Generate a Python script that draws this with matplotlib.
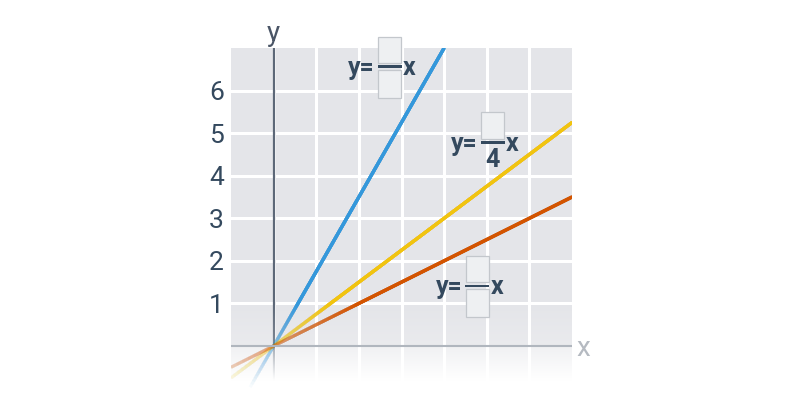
import numpy as np
import matplotlib
matplotlib.use("Agg")
import matplotlib.pyplot as plt
from matplotlib.patches import Rectangle
from matplotlib.transforms import Affine2D, ScaledTranslation

# ---- data ----
slopes = [1.75, 0.75, 0.5]
line_x_end = [4, 7, 7]
line_colors = ["#3498db", "#f1c40f", "#d35400"]
ytick_values = [1, 2, 3, 4, 5, 6]
ytick_labels = ["1", "2", "3", "4", "5", "6"]
xgrid_values = [0, 1, 2, 3, 4, 5, 6]
numerators = ["", "", ""]
denominators = ["", "4", ""]
# label anchors (fraction bar centre) in data coordinates
label_anchor_x = [2.72, 5.14, 4.78]
label_anchor_y = [6.56, 4.785, 1.41]

plt.rcParams['font.family'] = ['Roboto', 'DejaVu Sans']

TEXT = "#34495e"
fig = plt.figure(figsize=(8, 4), dpi=100)
XMIN, XMAX, YMIN, YMAX = -1, 7, -1.1, 7
ax = fig.add_axes([231 / 800, 1 - (346 + 1.1 * 42.57) / 400, 341 / 800, (8.1 * 42.57) / 400])
ax.set_xlim(XMIN, XMAX)
ax.set_ylim(YMIN, YMAX)
ax.set_facecolor("#e4e5e9")
for s in ax.spines.values():
    s.set_visible(False)

ax.set_xticks(xgrid_values)
ax.set_xticklabels([])
ax.set_yticks(ytick_values)
ax.set_yticklabels(ytick_labels)
ax.tick_params(axis='both', length=0)
ax.tick_params(axis='y', pad=5, labelsize=19, labelcolor=TEXT)
ax.set_axisbelow(True)
ax.grid(True, color="white", lw=2.2)

# y axis line
ax.plot([0, 0], [YMIN, YMAX], color="#5d6878", lw=1.6, zorder=1.0, solid_capstyle='butt')

# white fade overlay
ys = np.linspace(YMAX, YMIN, 900)
alpha = np.where(ys >= 1, 0.0,
                 np.where(ys >= 0, 0.22 * (1 - ys),
                          np.clip(0.45 + 0.55 * (-ys / 0.8), 0, 1)))
img = np.ones((len(ys), 2, 4))
img[:, :, 3] = alpha[:, None]
ax.imshow(img, extent=(XMIN, XMAX, YMIN, YMAX), aspect='auto', zorder=1.2,
          interpolation='bilinear')

# x axis line
ax.plot([XMIN, XMAX], [0, 0], color="#b0b6be", lw=1.5, zorder=3, solid_capstyle='butt')

# lines: stacked translucent copies give a smooth fade from y=1 down to y=-1
N = 30
for k, c, xe in zip(slopes, line_colors, line_x_end):
    for j in range(1, N + 1):
        y_start = -1 + 2 * (j - 0.5) / N
        x_start = max(y_start / k, -1.0)
        a = 1.0 / (N - j + 1)
        ax.plot([x_start, xe], [k * x_start, k * xe], color=c, lw=2.3, alpha=a,
                solid_capstyle='round' if j == N else 'butt', zorder=2.5)

def off(x, y, dx=0, dy=0):
    return Affine2D().translate(dx, dy) + ScaledTranslation(x, y, ax.transData)

# axis labels
ax.text(0, 0, "y", transform=off(0, 7, 0, 7), ha='center', va='baseline', fontsize=20,
        color="#4a5566", clip_on=False)
ax.text(0, 0, "x", transform=off(7, 0, 4, -10), ha='left', va='baseline', fontsize=20,
        color="#b5bac1", clip_on=False)

# fraction labels
BOX_FC = "#eef0f2"
BOX_EC = "#c3c7cc"
for ax_x, ax_y, num, den in zip(label_anchor_x, label_anchor_y, numerators, denominators):
    T = off(ax_x, ax_y)
    ax.text(-15, -8.5, "y=", transform=T, ha='right', va='baseline', fontsize=18,
            color=TEXT, fontweight='bold', clip_on=False, zorder=5)
    ax.text(13.5, -8.5, "x", transform=T, ha='left', va='baseline', fontsize=18,
            color=TEXT, fontweight='bold', clip_on=False, zorder=5)
    ax.add_patch(Rectangle((-12, -1.35), 24, 2.7, transform=T, facecolor=TEXT,
                           edgecolor='none', clip_on=False, zorder=5))
    if num == "":
        ax.add_patch(Rectangle((-11.5, 3.5), 23, 26.5, transform=T, facecolor=BOX_FC,
                               edgecolor=BOX_EC, lw=0.9, clip_on=False, zorder=5))
    else:
        ax.text(0, 8, num, transform=T, ha='center', va='baseline', fontsize=18,
                color=TEXT, fontweight='bold', clip_on=False, zorder=5)
    if den == "":
        ax.add_patch(Rectangle((-11.5, -31), 23, 27.5, transform=T, facecolor=BOX_FC,
                               edgecolor=BOX_EC, lw=0.9, clip_on=False, zorder=5))
    else:
        ax.text(0, -24.5, den, transform=T, ha='center', va='baseline', fontsize=18,
                color=TEXT, fontweight='bold', clip_on=False, zorder=5)

fig.savefig("out.png", dpi=100)
